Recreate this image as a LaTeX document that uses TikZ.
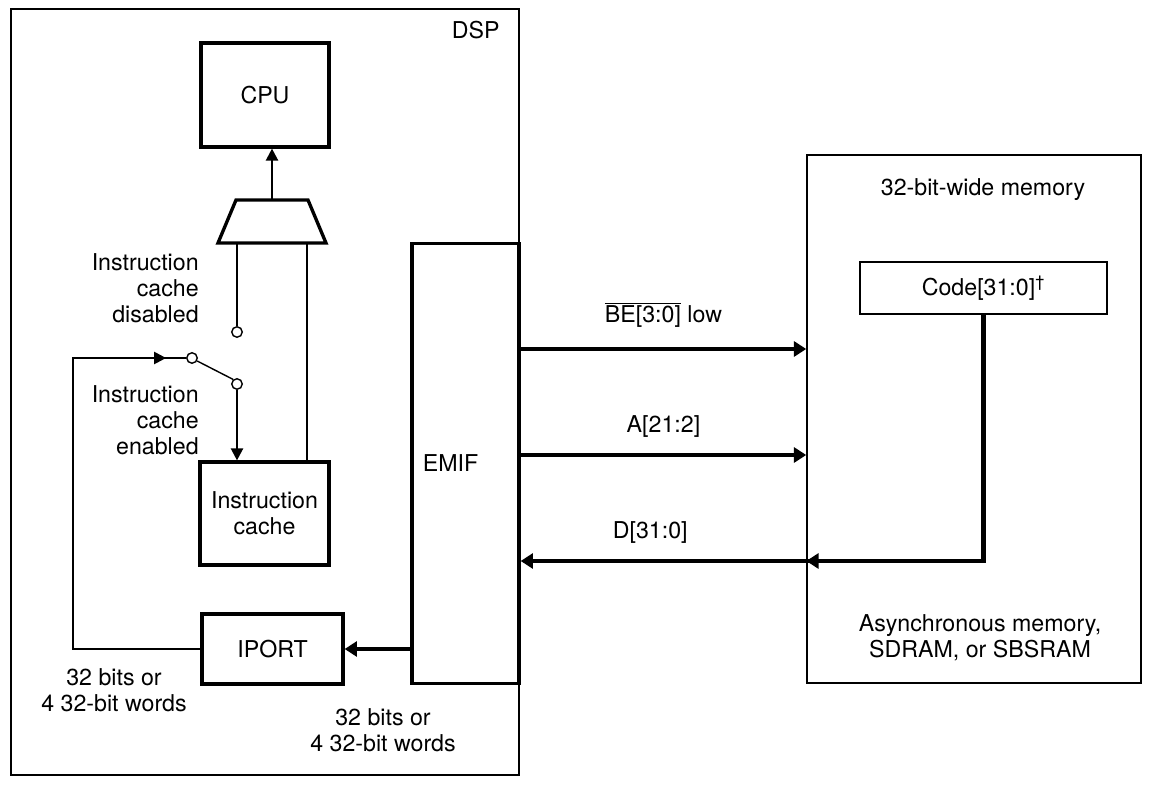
\documentclass[tikz,border=0pt]{standalone}
\usepackage{fontspec}
\setmainfont{TeX Gyre Heros}
\usetikzlibrary{arrows.meta,positioning,calc}

\begin{document}
\begin{tikzpicture}[
    x=0.02cm, y=-0.02cm,
    font=\fontsize{13.2}{14.7}\selectfont,
    frame/.style={draw, line width=0.9pt, inner sep=0pt},
    blk/.style={draw, line width=1.9pt, inner sep=0pt, align=center},
    codebox/.style={draw, line width=1.5pt, inner sep=0pt, align=center},
    pin/.style={circle, draw, line width=0.8pt, fill=white, inner sep=0pt, minimum size=0.21cm},
    txt/.style={inner sep=0pt, align=center},
    sig/.style={line width=0.8pt, -{Triangle[length=6.8pt,width=7pt]}},
    wire/.style={line width=0.8pt},
    bus/.style={line width=2.3pt, -{Triangle[length=7pt,width=8.5pt]}}
  ]
    \useasboundingbox (0,0) rectangle (1152,784);

    % DSP
    \node[frame, minimum width=10.16cm, minimum height=15.32cm] (dsp) at (265,392) {};
    \node[txt, anchor=east] (dsplabel) at (500,30) {DSP};

    \node[blk, minimum width=2.56cm, minimum height=2.08cm] (cpu) at (265,95) {CPU};
    \node[blk, minimum width=2.58cm, minimum height=2.06cm] (icache) at (264.5,513.5) {Instruction\\cache};
    \node[blk, minimum width=2.82cm, minimum height=1.4cm] (iport) at (272.5,649) {IPORT};
    \node[blk, minimum width=2.14cm, minimum height=8.8cm, label={[xshift=-0.3cm]center:EMIF}] (emif) at (465.5,463.5) {};

    % Multiplexer
    \coordinate (muxout) at (272,200);
    \coordinate (muxa) at (237,243);
    \coordinate (muxb) at (307,243);
    \draw[line width=1.9pt, line join=miter] (218,243) -- (236,200) -- (308,200) -- (326,243) -- cycle;

    % Switch
    \node[pin] (swoff) at (237,332) {};
    \node[pin] (swpole) at (192,358) {};
    \node[pin] (swon) at (237,384) {};
    \coordinate (fbcorner) at (73,358);

    \node[txt, align=right, anchor=east] (lbldis) at (199,288) {Instruction\\cache\\disabled};
    \node[txt, align=right, anchor=east] (lblen) at (199,420) {Instruction\\cache\\enabled};

    % Memory
    \node[frame, minimum width=6.68cm, minimum height=10.56cm] (mem) at (974,419) {};
    \node[txt] (memlabel) at (983,190) {32-bit-wide memory};
    \node[codebox, minimum width=4.94cm, minimum height=1.04cm] (code) at (983.5,288) {Code[31:0]\textsuperscript{\dag}};
    \node[txt] (memtype) at (980,638) {Asynchronous memory,\\SDRAM, or SBSRAM};

    \coordinate (yBE) at (0,349);
    \coordinate (yA) at (0,455);
    \coordinate (yD) at (0,561);

    % Conectores
    \draw[sig] (muxout) -- (muxout |- cpu.south);
    \draw[wire] (muxa) -- (swoff.north);
    \draw[wire] (muxb) -- (muxb |- icache.north);
    \draw[wire] (swpole.-30) -- (swon.130);
    \draw[sig] (swon.south) -- (swon |- icache.north);
    \draw[wire] (iport.west) -| (fbcorner) -- (swpole.west);
    \draw[sig] (fbcorner) -- ($(swpole.west)+(-20,0)$);
    \draw[bus] (emif.west |- iport) -- (iport.east);

    \draw[bus] (emif.east |- yBE) -- node[txt, above=11pt] (lblbe) {$\overline{\hbox{BE[3:0]}}$ low} (mem.west |- yBE);
    \draw[bus] (emif.east |- yA) -- node[txt, above=9pt] (lbla) {A[21:2]} (mem.west |- yA);
    \draw[bus, line join=miter] (code.south) |- node[txt, pos=0.86, above=9pt] (lbld) {D[31:0]} (emif.east |- yD);
    \draw[bus] (code.south |- yD) -- (mem.west |- yD);

    \node[txt] (lblbits1) at (114,690) {32 bits or\\4 32-bit words};
    \node[txt] (lblbits2) at (383,730) {32 bits or\\4 32-bit words};
  \end{tikzpicture}
\end{document}
